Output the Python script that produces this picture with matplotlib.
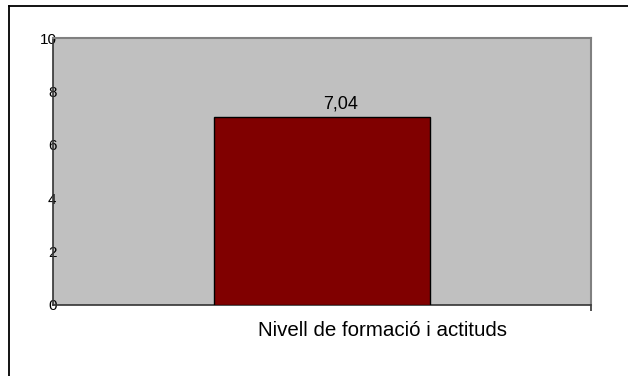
import matplotlib
matplotlib.use("Agg")
import matplotlib.pyplot as plt
from matplotlib.lines import Line2D

# Data
categories = ["Nivell de formació i actituds"]
values = [7.04]
value_labels = ["7,04"]
y_ticks = [0, 2, 4, 6, 8, 10]

W, H = 628, 376
fig = plt.figure(figsize=(W / 100, H / 100), dpi=100)
fig.patch.set_facecolor("white")

def fx(px):
    return px / W

def fy(py):
    return 1 - py / H

# Outer chart frame (left and top edges)
fig.add_artist(Line2D([fx(8.5), fx(8.5)], [fy(5.5), 0], color="black", lw=1.3,
                      transform=fig.transFigure))
fig.add_artist(Line2D([fx(8.5), 1], [fy(5.5), fy(5.5)], color="black", lw=1.3,
                      transform=fig.transFigure))

left, right, top, bottom = 53, 591, 38, 305
ax = fig.add_axes([fx(left), fy(bottom), fx(right - left), (bottom - top) / H])
ax.set_facecolor("#C0C0C0")

x = list(range(len(categories)))
ax.bar(x, values, width=0.4, color="#800000", edgecolor="black", linewidth=1.0, zorder=3)

ax.set_xlim(-0.5, len(categories) - 0.5)
ax.set_ylim(0, 10)

# Axes styling
for side in ("top", "right"):
    ax.spines[side].set_color("#808080")
    ax.spines[side].set_linewidth(1.5)
for side in ("left", "bottom"):
    ax.spines[side].set_color("#333333")
    ax.spines[side].set_linewidth(1.2)

ax.set_yticks(y_ticks)
ax.set_yticklabels([str(t) for t in y_ticks], fontfamily="Liberation Sans", fontsize=11)
ax.tick_params(axis="y", length=0, pad=-2.5)
for lbl in ax.get_yticklabels():
    lbl.set_horizontalalignment("right")

# Category boundary tick at the right end of the x axis
ax.set_xticks([len(categories) - 0.5])
ax.set_xticklabels([])
ax.tick_params(axis="x", length=4, width=1.2, color="#333333", direction="out")

# Value labels and category labels
for xi, v, lab, cat in zip(x, values, value_labels, categories):
    ax.annotate(lab, xy=(xi, v), xytext=(19, 5), textcoords="offset pixels",
                ha="center", va="bottom", fontfamily="Liberation Sans", fontsize=13,
                color="black", annotation_clip=False)
    ax.annotate(cat, xy=(xi, 0), xycoords=("data", "axes fraction"),
                xytext=(61, -25), textcoords="offset pixels",
                ha="center", va="center", fontfamily="Liberation Sans", fontsize=14.8,
                color="black", annotation_clip=False)

fig.savefig("out.png", dpi=100, facecolor="white")
